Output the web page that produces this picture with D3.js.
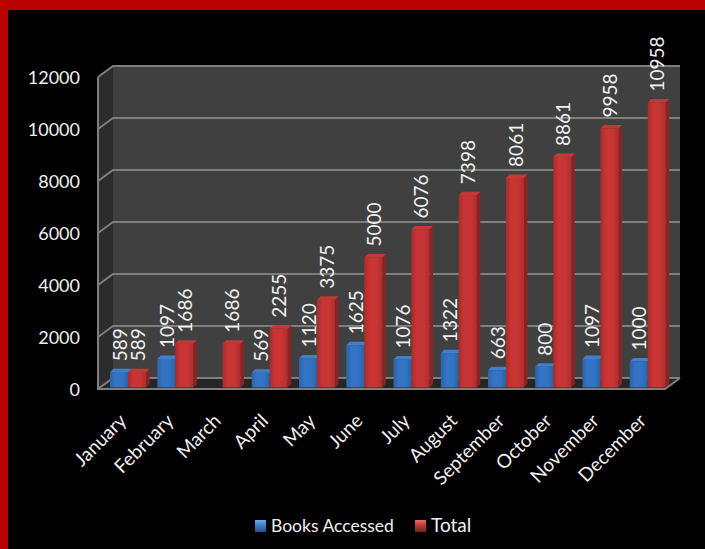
<!DOCTYPE html>
<html>
<head>
<meta charset="UTF-8">
<title>Books Accessed</title>
<script src="https://cdn.jsdelivr.net/npm/d3@7/dist/d3.min.js"></script>
<style type="text/css">
	html, body { margin:0; padding:0; background-color:black; overflow:hidden; }
	text { font-family:Lato, "Open Sans", sans-serif; fill:#f0f0f0; }
</style>
</head>
<body>
<script type="text/javascript">

var months = ['January','February','March','April','May','June','July','August','September','October','November','December'];
var booksAccessed = [589,1097,null,569,1120,1625,1076,1322,663,800,1097,1000];
var total = [589,1686,1686,2255,3375,5000,6076,7398,8061,8861,9958,10958];
var yTicks = [0,2000,4000,6000,8000,10000,12000];

var large = 705, haut = 549;
var dx = 15, dy = -11;   // depth of the 3d box
var barDx = 3, barDy = -1.5; // bars stand a little behind the front edge
var sideW = 3.5, capH = 3.5;

var x = d3.scaleBand().domain(months).range([98, 665]);
var y = d3.scaleLinear().domain([0, 12000]).range([389, 77]);

var svg = d3.select('body').append('svg').attr('width', large).attr('height', haut);
svg.append('rect').attr('width', large).attr('height', haut).attr('fill', 'black');

// red frame, top and left only
svg.append('rect').attr('width', large).attr('height', 10).attr('fill', '#ba0000');
svg.append('rect').attr('width', 8).attr('height', haut).attr('fill', '#ba0000');

var defs = svg.append('defs');
function grad(id, stops, vertical) {
	var g = defs.append('linearGradient').attr('id', id)
		.attr('x1', 0).attr('y1', 0)
		.attr('x2', vertical ? 0 : 1).attr('y2', vertical ? 1 : 0);
	stops.forEach(function(s) { g.append('stop').attr('offset', s[0]).attr('stop-color', s[1]); });
}
grad('blueFront', [[0,'#2c62a8'],[0.3,'#3474c4'],[0.7,'#3173c2'],[1,'#2a62a8']]);
grad('redFront', [[0,'#a82c2c'],[0.3,'#c93534'],[0.7,'#c83534'],[1,'#ac2d2d']]);
grad('blueLegend', [[0,'#6fa8ec'],[0.45,'#3f7fcb'],[1,'#24508c']], true);
grad('redLegend', [[0,'#f06a66'],[0.45,'#b93a38'],[1,'#782020']], true);

// 3d box: left wall, back wall, floor
var x0 = x.range()[0], x1 = x.range()[1], yB = y(0), yT = y(12000);
function pts(a) { return a.map(function(p) { return p.join(','); }).join(' '); }

svg.append('polygon').attr('fill', '#2c2c2c')
	.attr('points', pts([[x0,yB],[x0+dx,yB+dy],[x0+dx,yT+dy],[x0,yT]]));
svg.append('rect').attr('fill', '#404040')
	.attr('x', x0+dx).attr('y', yT+dy).attr('width', x1-x0).attr('height', yB-yT);
svg.append('polygon').attr('fill', '#262626')
	.attr('points', pts([[x0,yB],[x1,yB],[x1+dx,yB+dy],[x0+dx,yB+dy]]));

// gridlines run along the left wall then the back wall
svg.append('g').selectAll('polyline').data(yTicks).enter().append('polyline')
	.attr('fill', 'none').attr('stroke', '#7f7f7f').attr('stroke-width', 2)
	.attr('points', function(d) { return pts([[x0,y(d)],[x0+dx,y(d)+dy],[x1+dx,y(d)+dy]]); });

// box outline
svg.append('polyline').attr('fill', 'none').attr('stroke', '#7f7f7f').attr('stroke-width', 2)
	.attr('points', pts([[x0,yT],[x0,yB],[x1,yB],[x1+dx,yB+dy]]));

// bars
var barW = 18;
function drawBars(values, offset, front, side, top) {
	var data = months.map(function(m, i) { return {m:m, v:values[i]}; })
		.filter(function(d) { return d.v !== null; });
	var g = svg.append('g').selectAll('g').data(data).enter().append('g')
		.attr('transform', function(d) { return 'translate(' + (x(d.m) + offset + barDx) + ',' + barDy + ')'; });
	g.append('polygon').attr('fill', side)
		.attr('points', function(d) { return pts([[barW,y(d.v)],[barW+sideW,y(d.v)-capH],[barW+sideW,y(0)-capH],[barW,y(0)]]); });
	g.append('polygon').attr('fill', top)
		.attr('points', function(d) { return pts([[0,y(d.v)],[sideW,y(d.v)-capH],[barW+sideW,y(d.v)-capH],[barW,y(d.v)]]); });
	g.append('rect').attr('fill', front).attr('x', 0).attr('width', barW)
		.attr('y', function(d) { return y(d.v); })
		.attr('height', function(d) { return y(0) - y(d.v); });
	// value labels
	svg.append('g').selectAll('text').data(data).enter().append('text')
		.attr('font-size', 19)
		.attr('dominant-baseline', 'central')
		.attr('transform', function(d) {
			return 'translate(' + (x(d.m) + offset + barDx + barW/2) + ',' + (y(d.v) + barDy - 11) + ') rotate(-90)';
		})
		.text(function(d) { return d.v; });
}
drawBars(booksAccessed, 9, 'url(#blueFront)', '#24508c', '#3f7fcb');
drawBars(total, 27, 'url(#redFront)', '#8a2323', '#c23a38');

// axes
var yAxis = svg.append('g').attr('transform', 'translate(' + (x0 - 18) + ',1)')
	.call(d3.axisLeft(y).tickValues(yTicks).tickSize(0).tickPadding(0).tickFormat(d3.format('d')));
yAxis.select('.domain').remove();
yAxis.selectAll('text').attr('font-size', 18).attr('font-family', null);

var xAxis = svg.append('g').attr('transform', 'translate(0,' + (yB + 2) + ')')
	.call(d3.axisBottom(x).tickSize(0).tickPadding(0));
xAxis.select('.domain').remove();
xAxis.selectAll('text')
	.attr('font-size', 19).attr('font-family', null)
	.attr('text-anchor', 'end').attr('dy', null)
	.attr('transform', 'translate(6,31) rotate(-45)');

// legend
var legend = [
	{name:'Books Accessed', fill:'url(#blueLegend)', sx:255, tx:271, size:17.5},
	{name:'Total', fill:'url(#redLegend)', sx:415, tx:431, size:19}
];
var lg = svg.append('g').selectAll('g').data(legend).enter().append('g');
lg.append('rect').attr('x', function(d) { return d.sx; }).attr('y', 520)
	.attr('width', 11).attr('height', 12).attr('fill', function(d) { return d.fill; });
lg.append('text').attr('x', function(d) { return d.tx; }).attr('y', 532)
	.attr('font-size', function(d) { return d.size; }).text(function(d) { return d.name; });

</script>
</body>
</html>
